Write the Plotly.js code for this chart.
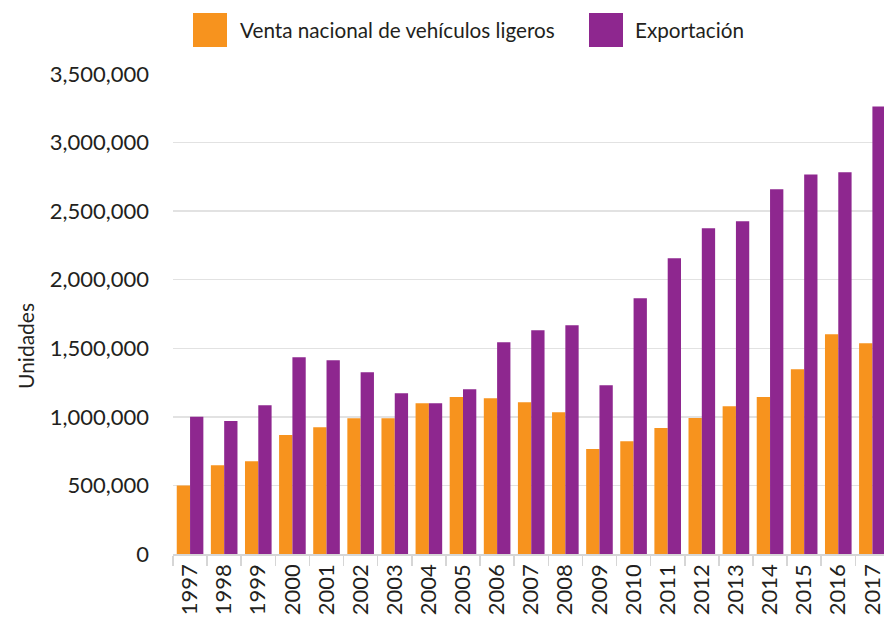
<!DOCTYPE html>
<html>
<head>
<meta charset="utf-8">
<script src="https://cdn.plot.ly/plotly-3.0.1.min.js"></script>
<style>
  html, body { margin: 0; padding: 0; background: #fff; }
  #chart { width: 884px; height: 619px; }
</style>
</head>
<body>
<div id="chart"></div>
<script>
const years = ["1997","1998","1999","2000","2001","2002","2003","2004","2005","2006","2007",
               "2008","2009","2010","2011","2012","2013","2014","2015","2016","2017"];
const ventaName = "Venta nacional de vehículos ligeros";
const exportName = "Exportación";
const venta = [500000, 648000, 677000, 867000, 925000, 990000, 990000, 1100000, 1144000, 1136000, 1107000,
               1034000, 765000, 823000, 918000, 991000, 1078000, 1144000, 1348000, 1603000, 1537000];
const exportacion = [1000000, 969000, 1085000, 1435000, 1413000, 1326000, 1173000, 1100000, 1202000, 1544000, 1632000,
                     1668000, 1231000, 1865000, 2156000, 2375000, 2426000, 2659000, 2768000, 2783000, 3263000];
const yTitle = "Unidades";

const orange = "#F7931E";
const purple = "#8E278F";
const FONT = "Lato, 'Open Sans', sans-serif";
const textColor = "#231F20";

const traces = [
  { type: "bar", x: years, y: venta, name: ventaName, marker: { color: orange }, showlegend: false, hoverinfo: "x+y" },
  { type: "bar", x: years, y: exportacion, name: exportName, marker: { color: purple }, showlegend: false, hoverinfo: "x+y" }
];

// legend drawn with shapes + annotations (large squares)
const L = 173, W = 711, B = 554, H = 480;
const px = x => (x - L) / W;
const py = y => (B - y) / H;

const layout = {
  width: 884, height: 619,
  margin: { l: 173, r: 0, t: 74, b: 65 },
  paper_bgcolor: "#fff", plot_bgcolor: "#fff",
  barmode: "group", bargap: 0.22, bargroupgap: 0,
  font: { family: FONT, color: textColor, size: 20 },
  xaxis: {
    type: "category",
    range: [-0.5, 20.34],
    tickangle: -90,
    tickfont: { family: FONT, size: 22, color: textColor },
    ticks: "outside", tickson: "boundaries", ticklen: 10, tickcolor: "#d6d6d6", tickwidth: 1.5,
    showline: true, linecolor: "#d6d6d6", linewidth: 1.5,
    showgrid: false, fixedrange: true
  },
  yaxis: {
    range: [0, 3500000], dtick: 500000, tickformat: ",d",
    tickfont: { family: FONT, size: 22, color: textColor },
    showgrid: true, gridcolor: "#e2e2e2", gridwidth: 1.5,
    zeroline: false, showline: false, ticks: "",
    ticklabelstandoff: 23,
    fixedrange: true
  },
  shapes: [
    { type: "rect", xref: "paper", yref: "paper", x0: px(193), x1: px(227), y0: py(47), y1: py(13),
      fillcolor: orange, line: { width: 0 } },
    { type: "rect", xref: "paper", yref: "paper", x0: px(589), x1: px(623), y0: py(47), y1: py(13),
      fillcolor: purple, line: { width: 0 } }
  ],
  annotations: [
    { xref: "paper", yref: "paper", x: px(238), y: py(30), xanchor: "left", yanchor: "middle",
      text: ventaName, showarrow: false, font: { family: FONT, size: 20.7, color: textColor } },
    { xref: "paper", yref: "paper", x: px(633), y: py(30), xanchor: "left", yanchor: "middle",
      text: exportName, showarrow: false, font: { family: FONT, size: 20.7, color: textColor } },
    { xref: "paper", yref: "paper", x: px(25), y: py(346), xanchor: "center", yanchor: "middle",
      text: yTitle, textangle: -90, showarrow: false, font: { family: FONT, size: 21, color: textColor } }
  ]
};

Plotly.newPlot("chart", traces, layout, { displayModeBar: false, staticPlot: true });
</script>
</body>
</html>
